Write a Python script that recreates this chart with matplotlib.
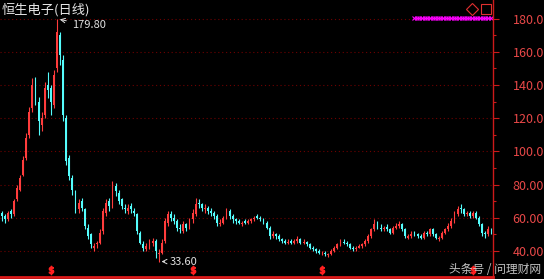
import numpy as np
import matplotlib.pyplot as plt

plt.rcParams['font.family'] = ['Noto Sans CJK SC', 'DejaVu Sans']

# Daily candles (roughly one candle per 3 px)
opens = [63, 61, 59, 64, 62, 71, 77, 86, 96, 110,
         126, 142, 130, 116, 122, 140, 138, 128, 150, 170,
         155, 120, 96, 84, 76, 65, 70, 65, 54, 50,
         42, 44, 45, 52, 63, 70, 68, 79, 75, 71,
         66, 64, 67, 64, 62, 51, 44, 41, 42, 45,
         46, 38, 39, 46, 57, 62, 60, 58, 54, 52,
         56, 54, 59, 62, 69, 68, 65, 66, 64, 63,
         61, 56, 57, 60, 64, 61, 59, 58, 56, 58,
         57, 58, 59, 61, 60, 59, 57, 54, 49, 50,
         49, 47, 46, 45, 46, 45, 46, 47, 45, 45.5,
         44, 42, 41, 40, 38.5, 39, 37.5, 38, 40, 42,
         44, 45.5, 45, 44, 42, 41, 42, 43, 44, 46,
         49, 53, 57, 54, 53, 54.5, 53, 51, 54, 55,
         56, 53, 48, 49, 50.5, 50, 49, 48, 51, 50,
         53, 50, 47, 48, 51, 53, 55, 58, 62, 66,
         65, 62, 63, 61, 63, 60, 56, 51, 50, 53]
highs = [64, 62, 64, 65, 71, 80, 86, 97, 111, 127,
         144, 145, 133, 124, 142, 148, 140, 149, 179.8, 172,
         158, 122, 98, 86, 77, 71, 72, 66, 56, 51,
         45, 46, 53, 66, 71, 72, 82, 81, 77, 72,
         68, 68, 69, 66, 63, 52, 46, 45, 47, 48,
         47, 41, 47, 60, 64, 64, 62, 59, 56, 58,
         57, 60, 65, 72, 71, 69, 68, 67, 66, 64,
         62, 59, 61, 66, 65, 62, 60, 59, 58, 59,
         59, 60, 61, 62, 61, 60, 58, 55, 52, 51,
         50, 48, 47, 47, 47, 47, 49, 48, 47, 46,
         45, 43, 42, 41, 40, 40, 39, 41, 43, 45,
         47, 47, 46, 45, 43, 43, 44, 45, 47, 50,
         54, 59, 58, 56, 55, 56, 54, 55, 57, 58,
         57, 54, 50, 52, 52, 51, 50, 52, 52, 54,
         54, 51, 49, 52, 54, 57, 60, 64, 67, 68,
         66, 64, 64, 64, 64, 61, 57, 52, 55, 54]
lows = [58, 57, 58, 60, 61, 70, 76, 85, 95, 108,
        124, 128, 110, 112, 120, 132, 122, 126, 148, 152,
        118, 92, 83, 74, 63, 63, 64, 53, 47, 42,
        40, 42, 44, 50, 61, 64, 66, 73, 68, 65,
        63, 62, 63, 61, 50, 44, 40, 40, 41, 43,
        36, 33.6, 38, 45, 55, 58, 56, 52, 51, 51,
        52, 53, 57, 61, 66, 64, 63, 62, 61, 59,
        55, 55, 56, 59, 59, 57, 56, 56, 55, 56,
        56, 57, 58, 59, 58, 56, 53, 47, 48, 47,
        46, 45, 44, 44, 44, 44, 45, 44, 44, 43,
        41, 40, 39, 38, 37.5, 37, 36.5, 37.5, 39.5, 41,
        43, 44, 43, 41, 40, 40, 41.5, 42, 43, 45,
        48, 52, 53, 52, 52, 52, 50, 50, 53, 54,
        52, 48, 47, 48, 49, 48, 47, 47, 49, 49,
        49, 47, 46, 47, 50, 52, 54, 57, 61, 63,
        61, 61, 60, 60, 59, 55, 49, 47.5, 49, 50]
closes = [61, 59, 63, 62, 70, 78, 84, 95, 108, 124,
          140, 132, 118, 120, 138, 137, 130, 146, 172, 158,
          122, 94, 85, 77, 66, 69, 66, 55, 49, 44,
          43, 45, 51, 64, 69, 67, 78, 76, 70, 67,
          65, 66, 65, 63, 52, 45, 42, 43, 45, 46,
          40, 39, 45, 58, 62, 60, 58, 54, 53, 56,
          54, 59, 63, 68, 68, 66, 66, 64, 63, 61,
          57, 57, 60, 64, 61, 59, 58, 57, 57, 57,
          58, 59, 60, 60, 59, 57, 54, 49, 50, 49,
          47, 46, 45, 45.5, 45, 46, 47, 45, 45.5, 44,
          42, 41, 40, 39, 39, 38, 38, 40, 42, 44,
          45, 45, 44, 42, 41, 42, 43, 44, 46, 49,
          53, 56, 54, 53, 54, 53, 51, 54, 55, 56,
          53, 49, 49, 50, 50, 49, 48, 51, 50, 53,
          50, 48, 48, 51, 53, 55, 58, 62, 65, 65,
          62, 63, 61, 63, 60, 56, 51, 50, 53, 51]

price_ticks = [40, 60, 80, 100, 120, 140, 160, 180]
price_labels = ["40.00", "60.00", "80.00", "100.0", "120.0", "140.0", "160.0", "180.0"]
dividend_idx = [16, 62, 104, 153]
peak_idx, peak_val = 18, 179.80
low_idx, low_val = 51, 33.60

o = np.array(opens, dtype=float)
h = np.array(highs, dtype=float)
l = np.array(lows, dtype=float)
c = np.array(closes, dtype=float)
x = np.arange(len(c))
colors = np.where(c >= o, '#ff3c3c', '#54fcfc')

fig = plt.figure(figsize=(5.44, 2.79), dpi=100, facecolor='black')
ax = fig.add_axes([0, 2 / 279, 493 / 544, 277 / 279])
ax.set_facecolor('black')

# grid first so candles sit on top
for v in price_ticks:
    ax.axhline(v, color='#6e0000', lw=0.8, ls=(0, (1, 2.5)), zorder=0)

ax.vlines(x, l, h, colors=colors, linewidth=0.8, zorder=2)
ax.bar(x, np.maximum(np.abs(c - o), 0.4), bottom=np.minimum(o, c), width=0.6,
       color=colors, linewidth=0, zorder=3)

ax.set_xlim(-0.5, len(c) - 0.5)
ax.set_ylim(24.3, 191.2)

for s in ['left', 'top']:
    ax.spines[s].set_visible(False)
ax.spines['right'].set_color('#cc1a1a')
ax.spines['right'].set_linewidth(1)
ax.spines['bottom'].set_color('#dd1a1a')
ax.spines['bottom'].set_linewidth(2)

ax.set_xticks([])
ax.yaxis.tick_right()
ax.set_yticks(price_ticks, price_labels)
ax.set_yticks([50, 70, 90, 110, 130, 150, 170], minor=True)
ax.tick_params(axis='y', which='major', colors='#cc1a1a', labelcolor='#e84848',
               length=4, width=0.8, pad=10, labelsize=9)
ax.tick_params(axis='y', which='minor', colors='#cc1a1a', length=2.5, width=0.8)

# high / low markers
ax.annotate(f"{peak_val:.2f}", xy=(peak_idx, peak_val), xytext=(22.8, 176),
            color='#e0e0e0', fontsize=8, va='center', ha='left',
            arrowprops=dict(arrowstyle='->', color='#e0e0e0', lw=0.7))
ax.annotate(f"{low_val:.2f}", xy=(low_idx, low_val), xytext=(54.7, low_val),
            color='#e0e0e0', fontsize=8, va='center', ha='left',
            arrowprops=dict(arrowstyle='->', color='#e0e0e0', lw=0.7))

# dividend marks along the bottom
ax.plot(dividend_idx, [0.027] * len(dividend_idx), ls='none', marker=r'$\$$',
        ms=6, color='#ff2020', transform=ax.get_xaxis_transform(), zorder=4)

# top-right indicator strip and icons
ax.plot(np.linspace(0.84, 0.995, 30), [0.935] * 30, transform=ax.transAxes,
        marker='x', ms=2.5, mew=0.8, lw=0.6, color='#ff00ff', clip_on=False)
ax.plot([0.957], [0.968], transform=ax.transAxes, marker='D', ms=6,
        mfc='none', mec='#e03030', mew=0.8, clip_on=False)
ax.plot([0.986], [0.968], transform=ax.transAxes, marker='s', ms=7,
        mfc='none', mec='#e03030', mew=0.8, clip_on=False)

fig.text(2 / 544, 1 - 10 / 279, '恒生电子(日线)', color='#e6e6e6', fontsize=9.5,
         va='center', ha='left')
fig.text(0.995, 0.035, '头条号 / 问理财网', color='#d8d8d8', fontsize=8.5,
         va='center', ha='right', alpha=0.9, zorder=5)

fig.savefig('out.png', dpi=100, facecolor='black')
